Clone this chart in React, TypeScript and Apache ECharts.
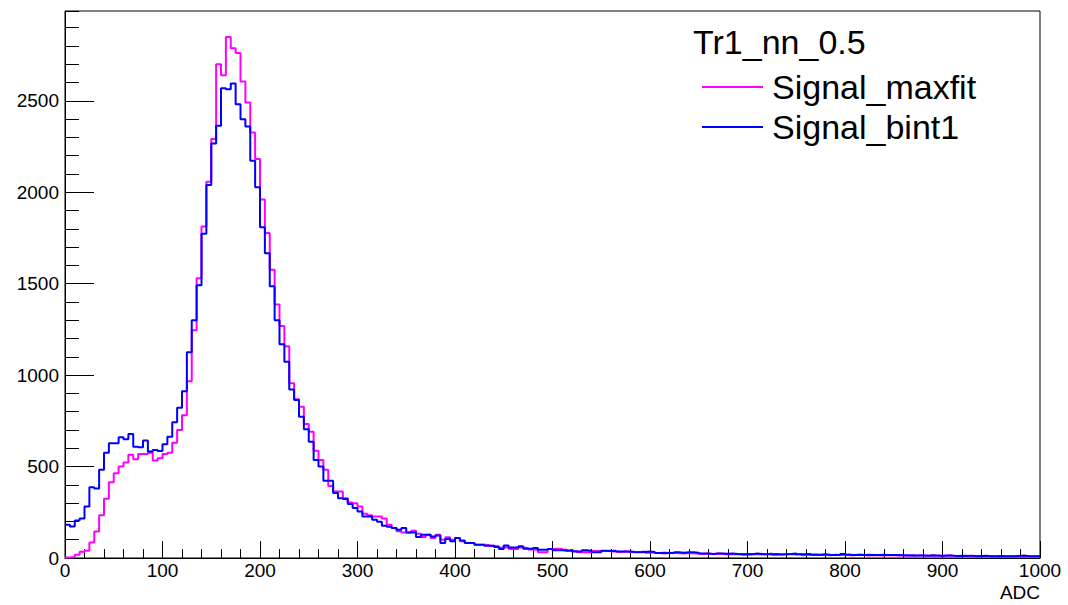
import React, { useEffect, useRef } from "react";
import * as echarts from "echarts";

const legendTitle = "Tr1_nn_0.5";
const seriesNames = ["Signal_maxfit", "Signal_bint1"];
const xTitle = "ADC";
const binWidth = 5;
const xMin = 0;
const xMax = 1000;
const xMajorStep = 100;
const yMajorStep = 500;
const yMinorStep = 100;

// bin contents, 5-ADC bins from 0 to 1000
const signalMaxfit = [
  3, 5, 18, 34, 40, 85, 145, 234, 324, 414,
  464, 500, 522, 564, 540, 569, 569, 575, 533, 545,
  569, 575, 630, 700, 781, 967, 1245, 1530, 1813, 2058,
  2291, 2700, 2640, 2849, 2788, 2762, 2606, 2491, 2327, 2182,
  1960, 1777, 1577, 1386, 1269, 1158, 955, 868, 827, 733,
  690, 587, 536, 482, 394, 364, 364, 327, 304, 300,
  282, 242, 234, 227, 227, 216, 182, 164, 146, 140,
  140, 149, 133, 115, 127, 109, 127, 100, 113, 100,
  109, 91, 82, 82, 73, 73, 71, 67, 64, 58,
  58, 49, 49, 58, 55, 47, 45, 31, 31, 49,
  51, 49, 45, 40, 38, 31, 31, 31, 38, 38,
  38, 40, 36, 33, 36, 33, 31, 33, 35, 29,
  31, 27, 25, 27, 29, 26, 25, 27, 26, 24,
  22, 24, 21, 24, 22, 19, 20, 20, 22, 18,
  21, 20, 19, 21, 24, 18, 19, 22, 20, 19,
  22, 17, 18, 19, 16, 18, 15, 18, 16, 17,
  19, 15, 18, 16, 14, 16, 15, 13, 16, 15,
  14, 13, 15, 12, 14, 13, 11, 13, 12, 11,
  12, 13, 10, 11, 12, 10, 9, 11, 10, 9,
  8, 10, 8, 9, 10, 8, 7, 8, 9, 10,
];

const signalBint1 = [
  182, 172, 205, 216, 282, 387, 380, 482, 576, 627,
  627, 660, 649, 678, 609, 605, 642, 582, 591, 585,
  622, 663, 742, 822, 912, 1125, 1300, 1491, 1773, 2040,
  2267, 2364, 2569, 2564, 2595, 2482, 2400, 2360, 2173, 2027,
  1809, 1667, 1486, 1300, 1169, 1073, 922, 864, 773, 704,
  636, 536, 500, 422, 422, 355, 327, 322, 296, 273,
  254, 227, 227, 209, 198, 176, 171, 164, 155, 164,
  140, 140, 115, 127, 127, 118, 123, 82, 104, 91,
  109, 96, 82, 82, 73, 73, 67, 67, 60, 49,
  69, 58, 58, 64, 51, 51, 55, 45, 45, 49,
  42, 42, 40, 42, 36, 36, 42, 40, 31, 31,
  40, 38, 40, 36, 35, 36, 33, 31, 33, 35,
  33, 27, 29, 27, 27, 31, 29, 31, 31, 29,
  24, 25, 22, 24, 24, 23, 25, 22, 20, 22,
  21, 24, 22, 20, 21, 22, 19, 20, 22, 25,
  21, 20, 22, 18, 18, 20, 18, 17, 18, 22,
  18, 17, 18, 16, 18, 17, 16, 18, 16, 17,
  16, 15, 14, 15, 13, 14, 13, 15, 13, 12,
  14, 13, 11, 12, 11, 13, 10, 11, 12, 9,
  10, 11, 9, 10, 9, 12, 13, 10, 9, 9,
];

const colors = ["#ff00ff", "#0000ff"];
const font = "'Liberation Sans', Arial, Helvetica, sans-serif";

function toSteps(vals: number[]): number[][] {
  const pts = vals.map((v, i) => [xMin + i * binWidth, v]);
  pts.push([xMin + vals.length * binWidth, vals[vals.length - 1]]);
  return pts;
}

const plain = (v: number) => String(Math.round(v));

export default function App() {
  const ref = useRef<HTMLDivElement>(null);
  useEffect(() => {
    if (!ref.current) return;
    const chart = echarts.init(ref.current, undefined, { renderer: "svg" });
    const yMax = Math.max(...signalMaxfit, ...signalBint1) * 1.05;
    const grid = { left: 65, right: 28, top: 11, bottom: 47 };
    chart.setOption({
      animation: false,
      backgroundColor: "#fff",
      textStyle: { fontFamily: font },
      title: {
        text: legendTitle,
        left: 688,
        top: 20,
        textStyle: { fontSize: 34, fontWeight: "normal", color: "#000", fontFamily: font },
      },
      legend: {
        orient: "vertical",
        left: 697,
        top: 65,
        itemWidth: 61,
        itemHeight: 2,
        itemGap: 6,
        icon: "rect",
        data: seriesNames,
        textStyle: { fontSize: 34, color: "#000", fontFamily: font, padding: [0, 0, 0, 4] },
      },
      grid: { ...grid, show: true, borderColor: "#000", borderWidth: 1, backgroundColor: "transparent" },
      xAxis: {
        type: "value",
        min: xMin,
        max: xMax,
        interval: xMajorStep,
        axisLine: { lineStyle: { color: "#000", width: 1 } },
        axisTick: { inside: true, length: 17, lineStyle: { color: "#000" } },
        minorTick: { show: true, splitNumber: 5, length: 9, lineStyle: { color: "#000" } },
        splitLine: { show: false },
        axisLabel: { color: "#000", fontSize: 19, margin: 3, fontFamily: font, formatter: plain },
      },
      yAxis: [
        {
          type: "value",
          min: 0,
          max: yMax,
          interval: yMajorStep,
          axisLine: { show: true, lineStyle: { color: "#000", width: 1 } },
          axisTick: { inside: true, length: 29, lineStyle: { color: "#000" } },
          splitLine: { show: false },
          axisLabel: { color: "#000", fontSize: 19, margin: 6, showMaxLabel: false, fontFamily: font, formatter: plain },
        },
        {
          type: "value",
          min: 0,
          max: yMax,
          interval: yMinorStep,
          position: "left",
          axisLine: { show: false },
          axisTick: { inside: true, length: 14, lineStyle: { color: "#000" } },
          splitLine: { show: false },
          axisLabel: { show: false },
        },
      ],
      graphic: [
        {
          type: "text",
          right: 28,
          top: 583,
          style: { text: xTitle, fontSize: 19, fill: "#000", fontFamily: font },
        },
      ],
      series: [
        {
          name: seriesNames[0],
          type: "line",
          step: "end",
          data: toSteps(signalMaxfit),
          showSymbol: false,
          symbol: "none",
          lineStyle: { color: colors[0], width: 2 },
          itemStyle: { color: colors[0] },
        },
        {
          name: seriesNames[1],
          type: "line",
          step: "end",
          data: toSteps(signalBint1),
          showSymbol: false,
          symbol: "none",
          lineStyle: { color: colors[1], width: 2 },
          itemStyle: { color: colors[1] },
        },
      ],
    });
    return () => chart.dispose();
  }, []);
  return (
    <div
      ref={ref}
      style={{ position: "fixed", left: 0, top: 0, width: 1068, height: 605 }}
    />
  );
}
